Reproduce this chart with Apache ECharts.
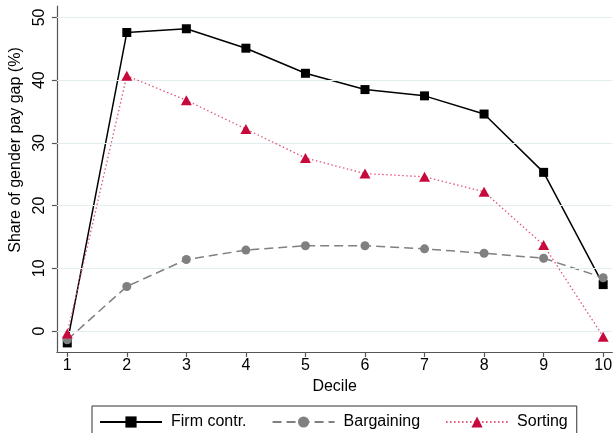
<!DOCTYPE html>
<html>
<head>
<meta charset="utf-8">
<script src="https://cdn.jsdelivr.net/npm/echarts@6/dist/echarts.min.js"></script>
<style>
html,body{margin:0;padding:0;background:#fff;}
#chart{width:615px;height:433px;}
</style>
</head>
<body>
<div id="chart"></div>
<script>
const deciles = [1, 2, 3, 4, 5, 6, 7, 8, 9, 10];
const firmContr = [-1.9, 47.6, 48.2, 45.1, 41.1, 38.5, 37.5, 34.6, 25.3, 7.4];
const bargaining = [-1.4, 7.1, 11.4, 12.9, 13.6, 13.6, 13.1, 12.4, 11.6, 8.5];
const sorting = [-0.4, 40.7, 36.8, 32.2, 27.6, 25.1, 24.6, 22.2, 13.7, -0.9];
const xTicks = [1, 2, 3, 4, 5, 6, 7, 8, 9, 10];
const yTicks = [0, 10, 20, 30, 40, 50];
const seriesNames = ['Firm contr.', 'Bargaining', 'Sorting'];

const pairs = arr => deciles.map((d, i) => [d, arr[i]]);
const FONT = 'Liberation Sans, Arial, sans-serif';
const chart = echarts.init(document.getElementById('chart'), null, {renderer: 'canvas'});

chart.setOption({
  backgroundColor: '#ffffff',
  animation: false,
  grid: {left: 53, top: 6, right: 0, bottom: 81, containLabel: false},
  xAxis: {
    type: 'value', min: 0.826, max: 10.154,
    name: 'Decile', nameLocation: 'middle', nameGap: 26,
    nameTextStyle: {fontFamily: FONT, fontSize: 16, color: '#000'},
    axisLine: {show: true, onZero: false, lineStyle: {color: '#555', width: 1.2}},
    axisTick: {show: true, customValues: xTicks, length: 5, inside: false, lineStyle: {color: '#555', width: 1.2}},
    axisLabel: {customValues: xTicks, fontFamily: FONT, fontSize: 16, color: '#000', margin: 6},
    splitLine: {show: false}
  },
  yAxis: {
    type: 'value', min: -3.35, max: 51.83,
    name: 'Share of gender pay gap (%)', nameLocation: 'middle', nameGap: 27,
    nameTextStyle: {fontFamily: FONT, fontSize: 16, color: '#000', padding: [0, 0, 0, 58]},
    axisLine: {show: true, onZero: false, lineStyle: {color: '#555', width: 1.2}},
    axisTick: {show: true, customValues: yTicks, length: 5, inside: false, lineStyle: {color: '#555', width: 1.2}},
    axisLabel: {customValues: yTicks, rotate: 90, fontFamily: FONT, fontSize: 16, color: '#000', margin: 9},
    splitLine: {show: false}
  },
  legend: {
    data: seriesNames,
    left: 92, top: 406,
    orient: 'horizontal',
    itemWidth: 62, itemHeight: 14, itemGap: 25,
    padding: [8, 9, 8, 7],
    borderColor: '#333', borderWidth: 1, borderRadius: 0,
    backgroundColor: '#fff',
    textStyle: {fontFamily: FONT, fontSize: 16, color: '#000', padding: [0, 0, 0, 4]}
  },
  series: [
    {
      name: 'grid', type: 'line', data: [], z: 1, silent: true,
      markLine: {
        silent: true, symbol: ['none', 'none'], label: {show: false},
        lineStyle: {color: '#e3ecef', width: 1, type: 'solid'},
        emphasis: {disabled: true},
        data: yTicks.map(v => ({yAxis: v}))
      }
    },
    {
      name: seriesNames[0], type: 'line', data: pairs(firmContr), z: 3,
      smooth: false, symbol: 'rect', symbolSize: 9,
      itemStyle: {color: '#000'},
      lineStyle: {color: '#000', width: 1.5, type: 'solid'}
    },
    {
      name: seriesNames[1], type: 'line', data: pairs(bargaining), z: 4,
      smooth: false, symbol: 'circle', symbolSize: 9,
      itemStyle: {color: '#808080'},
      lineStyle: {color: '#808080', width: 1.5, type: [9, 5]}
    },
    {
      name: seriesNames[2], type: 'line', data: pairs(sorting), z: 5,
      smooth: false, symbol: 'triangle', symbolSize: [11, 10],
      itemStyle: {color: '#c8093c'},
      lineStyle: {color: '#e0557a', width: 1.3, type: [1.5, 2.5]}
    }
  ]
});
</script>
</body>
</html>
